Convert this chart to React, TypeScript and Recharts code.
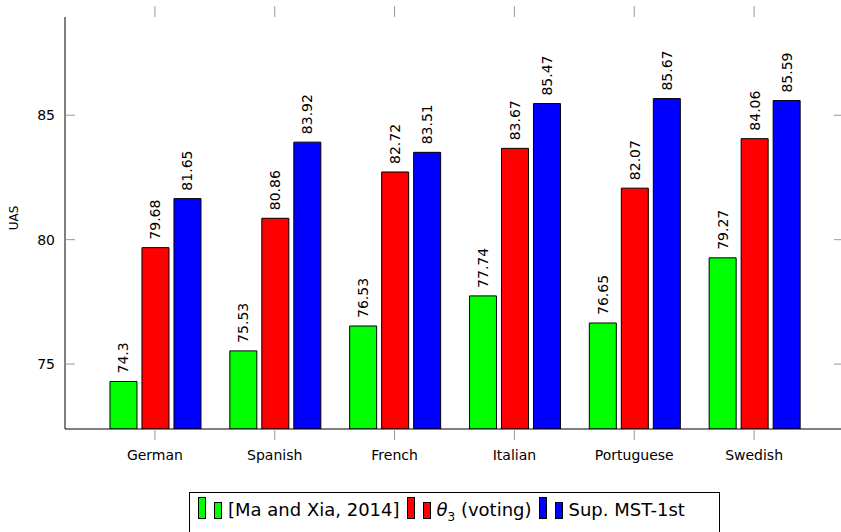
import React from 'react';
import { BarChart, Bar, XAxis, YAxis, Legend, LabelList } from 'recharts';

// Languages along the x axis
const languages = ['German', 'Spanish', 'French', 'Italian', 'Portuguese', 'Swedish'];

// UAS scores per system
const maXia = [74.3, 75.53, 76.53, 77.74, 76.65, 79.27];
const voting = [79.68, 80.86, 82.72, 83.67, 82.07, 84.06];
const supMst = [81.65, 83.92, 83.51, 85.47, 85.67, 85.59];

const yTicks = [75, 80, 85];

const data = languages.map((lang, i) => ({
  lang,
  maXia: maXia[i],
  voting: voting[i],
  supMst: supMst[i],
}));

const FONT = '"DejaVu Sans", sans-serif';
const PLOT_LEFT = 65;
const PLOT_RIGHT = 844;
const PLOT_TOP = 17;
const PLOT_BOTTOM = 429;

const YTick = (props: any) => {
  const { x, y, payload } = props;
  return (
    <g>
      <line x1={PLOT_LEFT} x2={PLOT_LEFT + 10} y1={y} y2={y} stroke="#999" />
      <line x1={PLOT_RIGHT - 10} x2={PLOT_RIGHT} y1={y} y2={y} stroke="#999" />
      <text x={x - 10} y={y} textAnchor="end" dominantBaseline="central" fontSize={14} fontFamily={FONT} fill="#000">
        {payload.value}
      </text>
    </g>
  );
};

const XTick = (props: any) => {
  const { x, payload } = props;
  return (
    <g>
      <line x1={x} x2={x} y1={PLOT_BOTTOM} y2={PLOT_BOTTOM + 11} stroke="#999" />
      <line x1={x} x2={x} y1={PLOT_TOP - 11} y2={PLOT_TOP} stroke="#999" />
      <text x={x} y={PLOT_BOTTOM + 26} textAnchor="middle" dominantBaseline="central" fontSize={14} fontFamily={FONT} fill="#000">
        {payload.value}
      </text>
    </g>
  );
};

const ValueLabel = (props: any) => {
  const { x, y, width, value } = props;
  const cx = x + width / 2;
  const cy = y - 8;
  return (
    <text
      x={cx}
      y={cy}
      transform={`rotate(-90 ${cx} ${cy})`}
      textAnchor="start"
      dominantBaseline="central"
      fontSize={14}
      fontFamily={FONT}
      fill="#000"
    >
      {String(value)}
    </text>
  );
};

const YLabel = () => (
  <text
    x={14}
    y={218}
    transform="rotate(-90 14 218)"
    textAnchor="middle"
    dominantBaseline="central"
    fontSize={12}
    fontFamily={FONT}
    fill="#000"
  >
    UAS
  </text>
);

const Swatch = ({ color }: { color: string }) => (
  <span style={{ display: 'inline-flex', alignItems: 'flex-end', height: 21, marginRight: 6 }}>
    <span style={{ width: 6, height: 20, background: color, border: '1px solid #000', marginRight: 8 }} />
    <span style={{ width: 6, height: 15, background: color, border: '1px solid #000' }} />
  </span>
);

const LegendBox = () => (
  <div
    style={{
      border: '1px solid #000',
      boxSizing: 'border-box',
      width: 531,
      height: 50,
      padding: '5px 0 0 8px',
      fontFamily: FONT,
      fontSize: 18,
      display: 'flex',
      alignItems: 'flex-start',
      whiteSpace: 'nowrap',
      background: '#fff',
    }}
  >
    <Swatch color="#00ff00" />
    <span style={{ marginRight: 7, lineHeight: '24px' }}>[Ma and Xia, 2014]</span>
    <Swatch color="#ff0000" />
    <span style={{ marginRight: 7, lineHeight: '24px' }}>
      <i>θ</i>
      <sub style={{ fontSize: 12 }}>3</sub> (voting)
    </span>
    <Swatch color="#0000ff" />
    <span style={{ lineHeight: '24px' }}>Sup. MST-1st</span>
  </div>
);

export default function App() {
  return (
    <div style={{ position: 'absolute', left: 0, top: 0, width: 841, height: 532, overflow: 'hidden', background: '#fff' }}>
      <BarChart
        width={841}
        height={532}
        data={data}
        margin={{ top: PLOT_TOP, right: 841 - PLOT_RIGHT, left: 0, bottom: 0 }}
        barGap={5}
        barCategoryGap="12.5%"
      >
        <XAxis
          dataKey="lang"
          height={532 - PLOT_BOTTOM}
          tickSize={0}
          tickMargin={0}
          tick={<XTick />}
          axisLine={{ stroke: '#000' }}
          padding={{ left: 30, right: 30 }}
          interval={0}
        />
        <YAxis
          width={PLOT_LEFT}
          domain={[72.39, 88.95]}
          allowDataOverflow
          ticks={yTicks}
          tickSize={0}
          tickMargin={0}
          tick={<YTick />}
          axisLine={{ stroke: '#000' }}
          label={<YLabel />}
        />
        {/* top border of the plot frame */}
        <XAxis xAxisId="top" orientation="top" dataKey="lang" height={0} tick={false} tickLine={false} axisLine={{ stroke: '#000' }} />
        <Legend
          layout="horizontal"
          verticalAlign="middle"
          align="center"
          content={() => <LegendBox />}
          wrapperStyle={{ position: 'absolute', left: 189, top: 492, width: 531 }}
        />
        <Bar dataKey="maXia" fill="#00ff00" stroke="#000" isAnimationActive={false}>
          <LabelList dataKey="maXia" content={<ValueLabel />} />
        </Bar>
        <Bar dataKey="voting" fill="#ff0000" stroke="#000" isAnimationActive={false}>
          <LabelList dataKey="voting" content={<ValueLabel />} />
        </Bar>
        <Bar dataKey="supMst" fill="#0000ff" stroke="#000" isAnimationActive={false}>
          <LabelList dataKey="supMst" content={<ValueLabel />} />
        </Bar>
      </BarChart>
    </div>
  );
}
